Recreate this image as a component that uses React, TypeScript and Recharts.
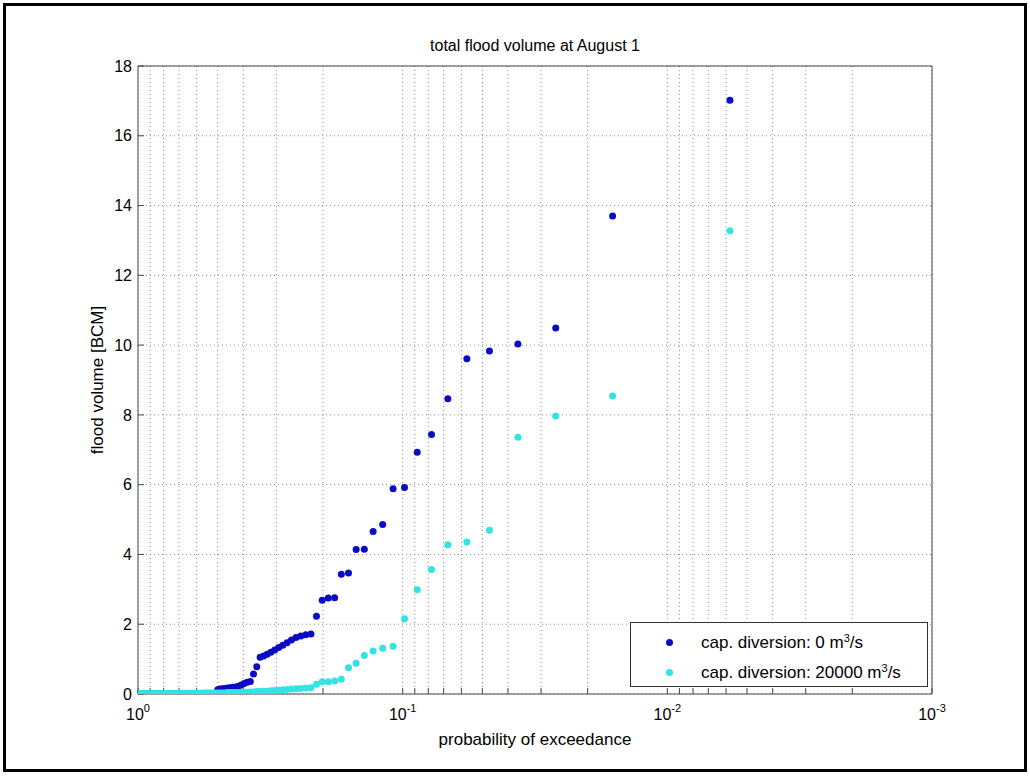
import { CartesianGrid, Scatter, ScatterChart, XAxis, YAxis } from 'recharts'

// plotting positions (probability of exceedance), largest event first
const exceedance = [
    0.0058, 0.0161, 0.0264, 0.0367, 0.047, 0.0572, 0.0675, 0.0778, 0.0881, 0.0984,
    0.1087, 0.119, 0.1293, 0.1396, 0.1499, 0.1602, 0.1705, 0.1808, 0.1911, 0.2014,
    0.2117, 0.222, 0.2323, 0.2426, 0.2529, 0.2632, 0.2735, 0.2838, 0.2941, 0.3044,
    0.3147, 0.325, 0.3353, 0.3456, 0.3558, 0.3661, 0.3764, 0.3867, 0.397, 0.4073,
    0.4176, 0.4279, 0.4382, 0.4485, 0.4588, 0.4691, 0.4794, 0.4897, 0.5, 0.5103,
    0.5206, 0.5309, 0.5412, 0.5515, 0.5618, 0.5721, 0.5824, 0.5927, 0.6029, 0.6132,
    0.6235, 0.6338, 0.6441, 0.6544, 0.6647, 0.675, 0.6853, 0.6956, 0.7059, 0.7162,
    0.7265, 0.7368, 0.7471, 0.7574, 0.7677, 0.7779, 0.7882, 0.7985, 0.8088, 0.8191,
    0.8294, 0.8397, 0.85, 0.8603, 0.8706, 0.8809, 0.8912, 0.9015, 0.9118, 0.9221,
    0.9324, 0.9426, 0.9529, 0.9632, 0.9735, 0.9838, 0.9941,
]

// flood volume [BCM] without diversion
const volumeNoDiversion = [
    17.02, 13.7, 10.49, 10.03, 9.83, 9.61, 8.46, 7.44, 6.93, 5.92,
    5.88, 4.86, 4.66, 4.15, 4.14, 3.47, 3.43, 2.76, 2.75, 2.69,
    2.23, 1.72, 1.7, 1.66, 1.62, 1.55, 1.47, 1.4, 1.33, 1.26,
    1.2, 1.14, 1.09, 1.05, 0.78, 0.57, 0.36, 0.34, 0.3, 0.26,
    0.22, 0.2, 0.19, 0.18, 0.17, 0.16, 0.15, 0.14, 0.12, 0,
    0, 0, 0, 0, 0, 0, 0, 0, 0, 0,
    0, 0, 0, 0, 0, 0, 0, 0, 0, 0,
    0, 0, 0, 0, 0, 0, 0, 0, 0, 0,
    0, 0, 0, 0, 0, 0, 0, 0, 0, 0,
    0, 0, 0, 0, 0, 0, 0,
]

// flood volume [BCM] with 20000 m3/s diversion capacity
const volumeDiversion = [
    13.28, 8.54, 7.97, 7.36, 4.69, 4.36, 4.28, 3.57, 2.99, 2.16,
    1.37, 1.31, 1.23, 1.1, 0.88, 0.75, 0.42, 0.37, 0.35, 0.35,
    0.28, 0.18, 0.17, 0.16, 0.15, 0.14, 0.13, 0.12, 0.11, 0.1,
    0.09, 0.08, 0.08, 0.07, 0.07, 0.06, 0.06, 0.05, 0.05, 0.05,
    0.04, 0.04, 0.04, 0.04, 0.04, 0.03, 0.03, 0.03, 0.03, 0.03,
    0.03, 0.03, 0.03, 0.03, 0.03, 0.02, 0.02, 0.02, 0.02, 0.02,
    0.02, 0.02, 0.02, 0.02, 0.02, 0.02, 0.02, 0.02, 0.02, 0.02,
    0.01, 0.01, 0.01, 0.01, 0.01, 0.01, 0.01, 0.01, 0.01, 0.01,
    0.01, 0.01, 0.01, 0.01, 0.01, 0.01, 0.01, 0.01, 0.01, 0.01,
    0.01, 0.01, 0.01, 0.01, 0.01, 0.01, 0.01,
]

const xTicks = [
    1, 0.9, 0.8, 0.7, 0.6, 0.5, 0.4, 0.3, 0.2,
    0.1, 0.09, 0.08, 0.07, 0.06, 0.05, 0.04, 0.03, 0.02,
    0.01, 0.009, 0.008, 0.007, 0.006, 0.005, 0.004, 0.003, 0.002,
    0.001,
]
const yTicks = [0, 2, 4, 6, 8, 10, 12, 14, 16, 18]

const seriesNames = ['cap. diversion: 0 m', 'cap. diversion: 20000 m']
const colors = ['#0b0bc6', '#33e3e3']

const FONT = '"Liberation Sans", Arial, Helvetica, sans-serif'
const AXIS = '#4a4a4a'

const noDivRows = exceedance.map((p, i) => ({ p, v: volumeNoDiversion[i] }))
const divRows = exceedance.map((p, i) => ({ p, v: volumeDiversion[i] }))

// only decades get a label, written as 10 with a superscript exponent
function DecadeTick(props: any) {
    const { x, y, payload } = props
    const v = payload.value
    const e = Math.round(Math.log10(v))
    if (Math.abs(v / Math.pow(10, e) - 1) > 1e-6) return null
    return (
        <text x={x} y={y + 26} textAnchor='middle' fontFamily={FONT} fontSize={16} fill='#000'>
            10
            <tspan dy={-8} fontSize={11}>{e === 0 ? '0' : `-${-e}`}</tspan>
        </text>
    )
}

const dot = (color: string) => (props: any) =>
    <circle cx={props.cx} cy={props.cy} r={3.5} fill={color} />

export default function App() {
    return (
        <div style={{ position: 'absolute', left: 0, top: 0, width: 1030, height: 776, background: '#fff' }}>
            <div
                style={{
                    position: 'absolute', left: 3, top: 3, width: 1024, height: 769,
                    border: '3px solid #000', boxSizing: 'border-box',
                }}
            />
            <ScatterChart width={1030} height={776} margin={{ top: 65, right: 97, bottom: 52, left: 78 }}>
                <CartesianGrid stroke='#8a8a8a' strokeDasharray='1 3' />
                <XAxis
                    type='number'
                    dataKey='p'
                    scale='log'
                    domain={[0.001, 1]}
                    allowDataOverflow
                    reversed
                    ticks={xTicks}
                    interval={0}
                    height={30}
                    tickSize={-6}
                    tickMargin={6}
                    stroke={AXIS}
                    tick={<DecadeTick />}
                    label={{
                        value: 'probability of exceedance', position: 'bottom', offset: 9,
                        fill: '#000', fontSize: 17, fontFamily: FONT,
                    }}
                />
                <XAxis
                    xAxisId='top'
                    orientation='top'
                    type='number'
                    scale='log'
                    domain={[0.001, 1]}
                    allowDataOverflow
                    reversed
                    ticks={xTicks}
                    interval={0}
                    height={1}
                    tickSize={-6}
                    tick={false}
                    stroke={AXIS}
                    label={{
                        value: 'total flood volume at August 1', position: 'top', offset: 14,
                        fill: '#000', fontSize: 16, fontFamily: FONT,
                    }}
                />
                <YAxis
                    type='number'
                    dataKey='v'
                    domain={[0, 18]}
                    allowDataOverflow
                    ticks={yTicks}
                    interval={0}
                    width={60}
                    tickSize={-6}
                    tickMargin={12}
                    stroke={AXIS}
                    tick={{ fill: '#000', fontSize: 16, fontFamily: FONT }}
                    label={{
                        content: (props: any) => {
                            const vb = props.viewBox
                            const cx = vb.x + 25
                            const cy = vb.y + vb.height / 2
                            return (
                                <text
                                    x={cx} y={cy} transform={`rotate(-90, ${cx}, ${cy})`}
                                    textAnchor='middle' fontFamily={FONT} fontSize={17} fill='#000'
                                >
                                    flood volume [BCM]
                                </text>
                            )
                        },
                    }}
                />
                <YAxis
                    yAxisId='right'
                    orientation='right'
                    type='number'
                    domain={[0, 18]}
                    allowDataOverflow
                    ticks={yTicks}
                    interval={0}
                    width={1}
                    tickSize={-6}
                    tick={false}
                    stroke={AXIS}
                />
                <Scatter name={seriesNames[0]} data={noDivRows} shape={dot(colors[0])} isAnimationActive={false} />
                <Scatter name={seriesNames[1]} data={divRows} shape={dot(colors[1])} isAnimationActive={false} />
            </ScatterChart>
            <div
                style={{
                    position: 'absolute', left: 630, top: 622, width: 298, height: 65,
                    border: '1px solid #333', background: '#fff', boxSizing: 'border-box',
                    fontFamily: FONT, fontSize: 17, color: '#000',
                }}
            >
                {seriesNames.map((name, i) => (
                    <div key={name} style={{ position: 'absolute', left: 0, top: 8 + i * 30, height: 24, width: '100%' }}>
                        <span
                            style={{
                                position: 'absolute', left: 35, top: 8, width: 7, height: 7,
                                borderRadius: '50%', background: colors[i],
                            }}
                        />
                        <span style={{ position: 'absolute', left: 70, top: 2, whiteSpace: 'nowrap', lineHeight: '20px' }}>
                            {name}
                            <span style={{ fontSize: 11, verticalAlign: 'top', lineHeight: '11px' }}>3</span>
                            /s
                        </span>
                    </div>
                ))}
            </div>
        </div>
    )
}
